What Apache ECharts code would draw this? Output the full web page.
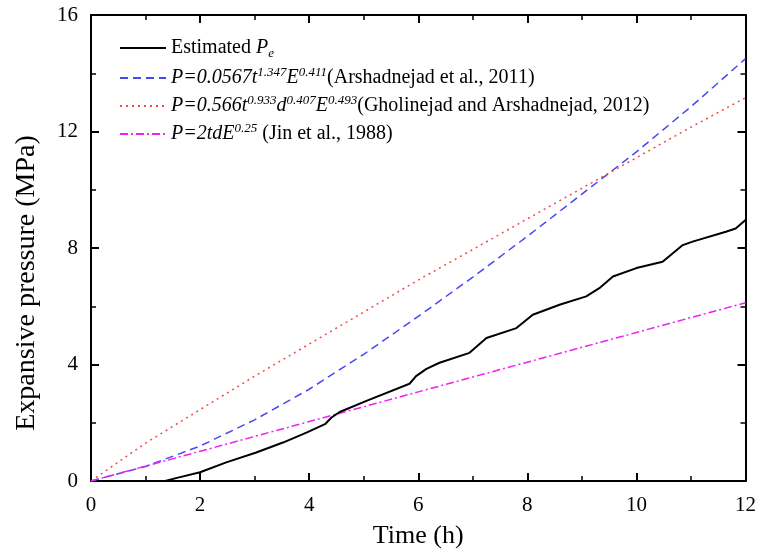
<!DOCTYPE html>
<html>
<head>
<meta charset="utf-8">
<title>Expansive pressure</title>
<script src="https://cdn.jsdelivr.net/npm/echarts@6/dist/echarts.min.js"></script>
<style>
    html, body { margin: 0; padding: 0; background: #fff; }
    #main { width: 759px; height: 554px; }
</style>
</head>
<body>
<div id="main"></div>
<script>
    // hours for the model curves
    const hours = [0, 1, 2, 3, 4, 5, 6, 7, 8, 9, 10, 11, 12];

    // estimated Pe, read off as [t, P] pairs
    const estimated = [
        [1.36, 0], [1.54, 0.09], [2.0, 0.30], [2.48, 0.64], [3.03, 0.98],
        [3.52, 1.32], [3.95, 1.66], [4.29, 1.95], [4.41, 2.18], [4.56, 2.37],
        [5.05, 2.75], [5.84, 3.34], [5.96, 3.6], [6.15, 3.85], [6.39, 4.06],
        [6.94, 4.4], [7.25, 4.91], [7.8, 5.25], [8.1, 5.71], [8.59, 6.05],
        [9.08, 6.34], [9.32, 6.62], [9.57, 7.02], [10.0, 7.31], [10.48, 7.53],
        [10.85, 8.1], [11.03, 8.22], [11.64, 8.56], [11.82, 8.67], [12.0, 8.96]
    ];
    const arshadnejad = [0, 0.5, 1.2, 2.1, 3.15, 4.35, 5.65, 7.0, 8.4, 9.85, 11.3, 12.85, 14.5];
    const gholinejad = [0, 1.3, 2.45, 3.6, 4.7, 5.8, 6.9, 7.95, 9.0, 10.05, 11.1, 12.15, 13.16];
    const jin = [0, 0.51, 1.02, 1.53, 2.04, 2.55, 3.06, 3.57, 4.08, 4.59, 5.1, 5.61, 6.12];

    const names = ['est', 'ars', 'gho', 'jin'];
    const legendText = {
        est: '{n|Estimated }{i|P}{b|e}',
        ars: '{i|P=0.0567t}{s|1.347}{i|E}{s|0.411}{n|(Arshadnejad et al., 2011)}',
        gho: '{i|P=0.566t}{s|0.933}{i|d}{s|0.407}{i|E}{s|0.493}{n|(Gholinejad and Arshadnejad, 2012)}',
        jin: '{i|P=2tdE}{s|0.25}{n| (Jin et al., 1988)}'
    };

    const font = 'Liberation Serif';
    const pair = (ys) => hours.map((t, i) => [t, ys[i]]);

    const chart = echarts.init(document.getElementById('main'));

    const tickX = {
        type: 'value', min: 0, max: 12, interval: 2,
        axisLine: { show: true, onZero: false, lineStyle: { color: '#000', width: 2 } },
        axisTick: { inside: true, length: 8, lineStyle: { color: '#000', width: 2 } },
        minorTick: { show: true, splitNumber: 2, length: 5, lineStyle: { color: '#000', width: 1.5 } },
        splitLine: { show: false }
    };
    const tickY = {
        type: 'value', min: 0, max: 16, interval: 4,
        axisLine: { show: true, onZero: false, lineStyle: { color: '#000', width: 2 } },
        axisTick: { inside: true, length: 8, lineStyle: { color: '#000', width: 2 } },
        minorTick: { show: true, splitNumber: 2, length: 5, lineStyle: { color: '#000', width: 1.5 } },
        splitLine: { show: false }
    };

    const line = (name, data, color, type, width) => ({
        name: name,
        type: 'line',
        data: data,
        symbol: 'none',
        smooth: false,
        lineStyle: { color: color, type: type, width: width },
        itemStyle: { color: color },
        z: name == 'est' ? 5 : 3
    });

    const option = {
        animation: false,
        backgroundColor: '#fff',
        textStyle: { fontFamily: font },
        grid: { left: 91, right: 13, top: 15, bottom: 72 },
        legend: {
            orient: 'vertical',
            left: 114,
            top: 33,
            itemWidth: 46,
            itemHeight: 10,
            itemGap: 6,
            itemStyle: { opacity: 0 },
            data: names,
            formatter: name => legendText[name],
            textStyle: {
                fontFamily: font,
                fontSize: 20,
                color: '#000',
                rich: {
                    n: { fontFamily: font, fontSize: 20, color: '#000', lineHeight: 24 },
                    i: { fontFamily: font, fontSize: 20, fontStyle: 'italic', color: '#000', lineHeight: 24 },
                    s: { fontFamily: font, fontSize: 13, fontStyle: 'italic', color: '#000', lineHeight: 24, verticalAlign: 'top' },
                    b: { fontFamily: font, fontSize: 13, fontStyle: 'italic', color: '#000', lineHeight: 24, verticalAlign: 'bottom' }
                }
            }
        },
        xAxis: [
            Object.assign({}, tickX, {
                position: 'bottom',
                name: 'Time (h)',
                nameLocation: 'middle',
                nameGap: 42,
                nameTextStyle: { fontFamily: font, fontSize: 26, color: '#000' },
                axisLabel: { fontFamily: font, fontSize: 21, color: '#000', margin: 14 }
            }),
            Object.assign({}, tickX, { position: 'top', axisLabel: { show: false } })
        ],
        yAxis: [
            Object.assign({}, tickY, {
                position: 'left',
                name: 'Expansive pressure (MPa)',
                nameLocation: 'middle',
                nameGap: 50,
                nameTextStyle: { fontFamily: font, fontSize: 28, color: '#000', padding: [0, 70, 0, 0] },
                axisLabel: { fontFamily: font, fontSize: 21, color: '#000', margin: 13 }
            }),
            Object.assign({}, tickY, { position: 'right', axisLabel: { show: false } })
        ],
        series: [
            line('est', estimated, '#000000', 'solid', 2),
            line('ars', pair(arshadnejad), '#4747f5', [8, 5], 1.5),
            line('gho', pair(gholinejad), '#f24a4a', [2, 4], 1.5),
            line('jin', pair(jin), '#f020f0', [8, 3, 2, 3], 1.5)
        ]
    };

    option && chart.setOption(option);
</script>
</body>
</html>
